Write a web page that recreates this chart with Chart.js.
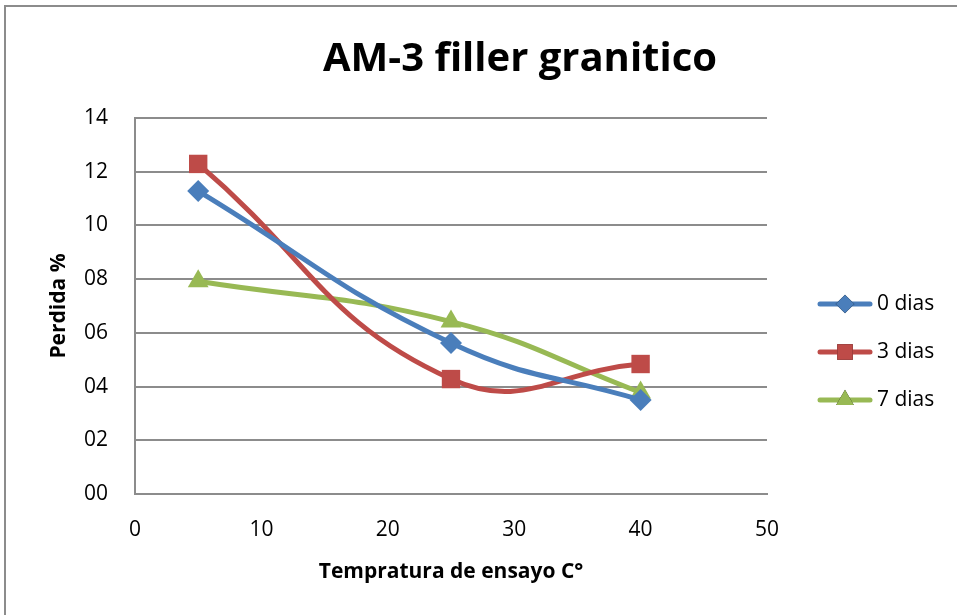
<!DOCTYPE html>
<html lang="es">
<head>
    <meta charset="UTF-8">
    <title>AM-3 filler granitico</title>
    <style>
        html, body { margin: 0; padding: 0; background: #fff; overflow: hidden; }
        .frame { position: absolute; left: 4px; top: 5px; width: 980px; height: 640px; border: 2px solid #8c8c8c; }
        .wrap { position: absolute; left: 0; top: 0; width: 957px; height: 615px; }
    </style>
</head>
<body>
    <div class="frame"></div>
    <div class="wrap"><canvas id="chart" width="957" height="615"></canvas></div>

    <script src="https://cdn.jsdelivr.net/npm/chart.js"></script>
    <script>
        // temperatura de ensayo (C°)
        const temperaturas = [5, 25, 40];
        // pérdida % por días de curado
        const dias0 = [11.28, 5.62, 3.5];
        const dias3 = [12.29, 4.28, 4.84];
        const dias7 = [7.92, 6.42, 3.78];
        const yTicks = [0, 2, 4, 6, 8, 10, 12, 14];
        const xTicks = [0, 10, 20, 30, 40, 50];

        const font = "'Open Sans', 'Liberation Sans', sans-serif";

        function pts(ys) {
            return temperaturas.map((x, i) => ({ x: x, y: ys[i] }));
        }

        // title sits off-centre, over the plot plus legend column
        const chartTitle = {
            id: 'chartTitle',
            afterDraw(chart) {
                const ctx = chart.ctx;
                ctx.save();
                ctx.fillStyle = '#000';
                ctx.font = 'bold 40px ' + font;
                ctx.textAlign = 'center';
                ctx.textBaseline = 'middle';
                ctx.fillText('AM-3 filler granitico', 520, 60);
                ctx.restore();
            }
        };

        // legend drawn as line + marker, like the office chart style
        const lineLegend = {
            id: 'lineLegend',
            afterDraw(chart) {
                const ctx = chart.ctx;
                const x0 = 820, x1 = 870;
                chart.data.datasets.forEach((ds, i) => {
                    const y = 304 + i * 48;
                    ctx.save();
                    ctx.strokeStyle = ds.borderColor;
                    ctx.lineWidth = ds.borderWidth;
                    ctx.lineCap = 'round';
                    ctx.beginPath();
                    ctx.moveTo(x0, y);
                    ctx.lineTo(x1, y);
                    ctx.stroke();
                    Chart.helpers.drawPoint(ctx, {
                        pointStyle: ds.pointStyle,
                        radius: ds.pointRadius * 0.85,
                        borderWidth: 0
                    }, (x0 + x1) / 2, y);
                    ctx.fillStyle = ds.pointBackgroundColor;
                    ctx.fill();
                    ctx.fillStyle = '#000';
                    ctx.font = '21px ' + font;
                    ctx.textBaseline = 'middle';
                    ctx.fillText(ds.label, 877, y);
                    ctx.restore();
                });
            }
        };

        new Chart(document.getElementById('chart'), {
            type: 'scatter',
            data: {
                datasets: [
                    { label: '0 dias', data: pts(dias0), borderColor: '#4a7ebb', backgroundColor: '#4a7ebb',
                      pointBackgroundColor: '#4a7ebb', pointStyle: 'rectRot', pointRadius: 11 },
                    { label: '3 dias', data: pts(dias3), borderColor: '#be4b48', backgroundColor: '#be4b48',
                      pointBackgroundColor: '#be4b48', pointStyle: 'rect', pointRadius: 13 },
                    { label: '7 dias', data: pts(dias7), borderColor: '#98b954', backgroundColor: '#98b954',
                      pointBackgroundColor: '#98b954', pointStyle: 'triangle', pointRadius: 12 }
                ].map(d => Object.assign(d, {
                    showLine: true, tension: 0.45, borderWidth: 5, pointBorderWidth: 0, pointHoverRadius: d.pointRadius
                }))
            },
            options: {
                responsive: false,
                animation: false,
                layout: { padding: { left: 0, right: 190, top: 118, bottom: 0 } },
                plugins: {
                    legend: { display: false },
                    tooltip: { enabled: false },
                    title: { display: false }
                },
                scales: {
                    x: {
                        type: 'linear', min: 0, max: 50,
                        afterBuildTicks: s => { s.ticks = xTicks.map(v => ({ value: v })); },
                        afterFit: s => { s.height = 121; },
                        grid: { display: false, drawTicks: false },
                        border: { color: '#8c8c8c', width: 2 },
                        ticks: { color: '#000', padding: 23, font: { family: font, size: 21 } },
                        title: { display: true, text: 'Tempratura de ensayo C°',
                                 color: '#000', font: { family: font, size: 21, weight: 'bold' },
                                 padding: { top: 0, bottom: 30 } }
                    },
                    y: {
                        type: 'linear', min: 0, max: 14,
                        afterBuildTicks: s => { s.ticks = yTicks.map(v => ({ value: v })); },
                        afterFit: s => { s.width = 135; },
                        grid: { color: '#8c8c8c', lineWidth: 2, drawTicks: false },
                        border: { color: '#8c8c8c', width: 2 },
                        ticks: { color: '#000', padding: 27, font: { family: font, size: 21 },
                                 callback: v => String(v).padStart(2, '0') },
                        title: { display: true, text: 'Perdida %', color: '#000',
                                 font: { family: font, size: 21, weight: 'bold' }, padding: { top: 46, bottom: 0 } }
                    }
                }
            },
            plugins: [chartTitle, lineLegend]
        });
    </script>
</body>
</html>
